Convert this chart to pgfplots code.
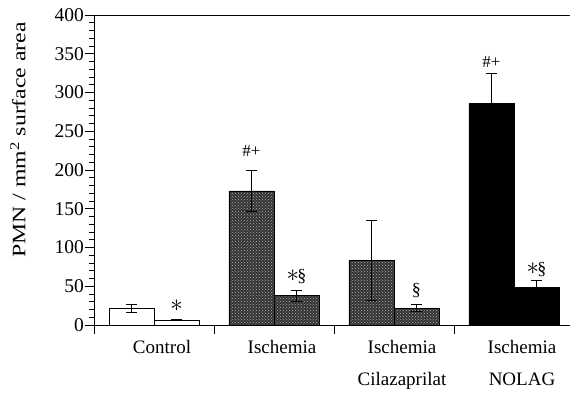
\documentclass[border=0pt]{standalone}
\usepackage{fontspec}
\setmainfont{Liberation Serif}
\usepackage{pgfplots}
\pgfplotsset{compat=1.18}
\usetikzlibrary{patterns}
\begin{document}
\begin{tikzpicture}
\begin{axis}[
  scale only axis, width=476pt, height=310pt,
  xmin=-0.5, xmax=3.4667, ymin=0, ymax=400,
  axis x line=box, axis y line=left,
  axis line style={-, line width=0.9pt, black},
  ytick={0,50,...,400}, minor y tick num=4,
  tick align=outside, major tick length=9pt, minor tick length=4.5pt,
  tick style={line width=0.8pt, black},
  xtick={-0.5,0.5,1.5,2.5}, xtick pos=left, ytick pos=left,
  xticklabels={Control, Ischemia, Ischemia\\Cilazaprilat, Ischemia\\NOLAG},
  xticklabel style={align=center, xshift=68pt, yshift=-3pt, font=\fontsize{19}{32}\selectfont},
  yticklabel style={font=\fontsize{19.5}{22}\selectfont, inner xsep=1pt},
  /pgf/number format/assume math mode=true,
  ylabel={\scalebox{1.25}[1]{PMN / mm\textsuperscript{2} surface area}},
  ylabel style={at={(axis description cs:-0.16,0.597)}, anchor=center, font=\fontsize{19}{21}\selectfont},
  clip=false,
  every axis plot/.append style={ybar, bar width=0.375, line width=0.8pt, draw=black,
    error bars/y dir=both, error bars/y explicit,
    error bars/error bar style={line width=0.9pt, black},
    error bars/error mark options={rotate=90, mark size=5.5pt, line width=0.9pt, black}},
]
% Control
\addplot[fill=white] coordinates {(-0.1875,21.5) +- (0,5) (0.1875,6.5) +- (0,1)};
% Ischemia
\addplot[fill=black!80, postaction={pattern=crosshatch dots, pattern color=white!70!black}]
  coordinates {(0.8125,173) +- (0,27) (1.1875,38) +- (0,7)};
% Ischemia Cilazaprilat
\addplot[fill=black!80, postaction={pattern=crosshatch dots, pattern color=white!70!black}]
  coordinates {(1.8125,83.5) +- (0,52) (2.1875,21.5) +- (0,4.5)};
% Ischemia NOLAG
\addplot[fill=black] coordinates {(2.8125,286) +- (0,39) (3.1875,48.5) +- (0,9.5)};

\node at (axis cs:0.1875,24.5) {\fontsize{25}{25}\selectfont$\ast$};
\node[font=\fontsize{17}{17}\selectfont] at (axis cs:0.8125,224) {\#+};
\node[font=\fontsize{18}{18}\selectfont] at (axis cs:1.1875,62) {{\fontsize{24}{24}\selectfont$\ast$}\kern-1.5pt\S};
\node[font=\fontsize{18}{18}\selectfont] at (axis cs:2.1875,45) {\S};
\node[font=\fontsize{17}{17}\selectfont] at (axis cs:2.8125,340) {\#+};
\node[font=\fontsize{18}{18}\selectfont] at (axis cs:3.1875,71) {{\fontsize{24}{24}\selectfont$\ast$}\kern-1.5pt\S};
\coordinate (O) at (rel axis cs:0,0);
\end{axis}
\pgfresetboundingbox
\path[use as bounding box] ([shift={(-94pt,-68pt)}]O) rectangle ([shift={(476pt,325pt)}]O);
\end{tikzpicture}
\end{document}
